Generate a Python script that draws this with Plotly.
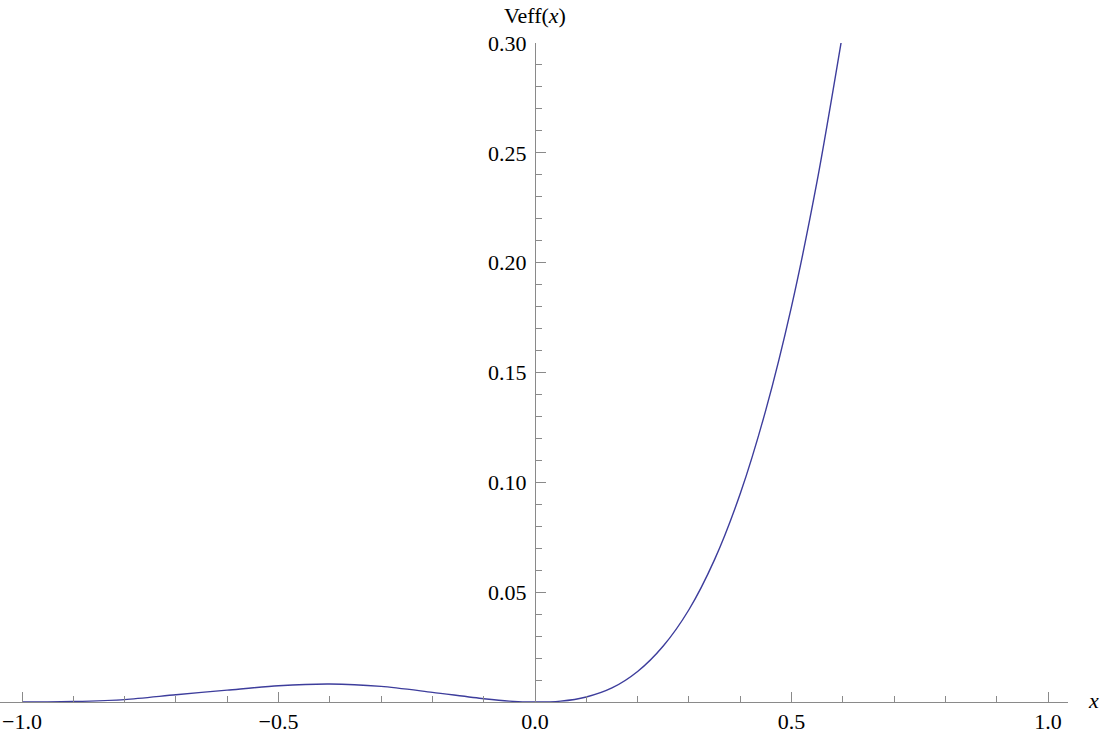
import plotly.graph_objects as go

# values
x_vals = [-1.0, -0.95, -0.9, -0.8, -0.7, -0.6, -0.5, -0.4, -0.3, -0.2, -0.1, -0.05,
          0.0, 0.05, 0.1, 0.15, 0.2, 0.25, 0.3, 0.35, 0.4, 0.45, 0.5, 0.55, 0.6]
veff_vals = [0.0, 0.0, 0.0002, 0.0011, 0.0033, 0.0054, 0.0074, 0.0082, 0.0071, 0.0044, 0.0015, 0.0004,
             0.0, 0.0004, 0.0023, 0.0064, 0.0139, 0.0255, 0.0420, 0.0648, 0.0948, 0.1330, 0.1800, 0.2372, 0.3048]

x_ticks = [-1.0, -0.5, 0.0, 0.5, 1.0]
x_ticktext = ["\u22121.0", "\u22120.5", "0.0", "0.5", "1.0"]
y_ticks = [0.05, 0.10, 0.15, 0.20, 0.25, 0.30]
y_ticktext = ["0.05", "0.10", "0.15", "0.20", "0.25", "0.30"]

AXIS_GREY = "#8a8a8a"
CURVE_BLUE = "#3d3d9c"
FONT = dict(family="Liberation Serif, Times New Roman, serif", size=22, color="black")

FIG_W, FIG_H = 1103, 735
PX_PER_UNIT = 513
PLOT_W = 1068          # x axis line runs from the left edge to x=1068

fig = go.Figure()
fig.add_trace(go.Scatter(
    x=x_vals, y=veff_vals, mode="lines",
    line=dict(color=CURVE_BLUE, width=1.4, shape="spline", smoothing=0.8),
    showlegend=False, hoverinfo="skip",
))

x0 = -1 - 22 / PX_PER_UNIT
fig.update_layout(
    width=FIG_W, height=FIG_H,
    margin=dict(l=0, r=FIG_W - PLOT_W, t=43, b=FIG_H - 702.5),
    plot_bgcolor="white", paper_bgcolor="white",
    font=FONT,
    xaxis=dict(
        range=[x0, x0 + PLOT_W / PX_PER_UNIT], automargin=False,
        showgrid=False, zeroline=False,
        showline=True, linecolor=AXIS_GREY, linewidth=1,
        tickmode="array", tickvals=x_ticks, ticktext=x_ticktext,
        ticks="inside", ticklen=10, tickcolor=AXIS_GREY, tickwidth=1,
        minor=dict(tickmode="linear", tick0=0, dtick=0.1, ticks="inside",
                   ticklen=6, tickcolor=AXIS_GREY, tickwidth=1),
        tickfont=FONT, ticklabelstandoff=0, ticklabeloverflow="allow",
    ),
    yaxis=dict(
        range=[0, 0.3], automargin=False,
        anchor="free", position=-x0 * PX_PER_UNIT / PLOT_W,
        showgrid=False, zeroline=False,
        showline=True, linecolor=AXIS_GREY, linewidth=1,
        tickmode="array", tickvals=y_ticks, ticktext=y_ticktext,
        ticks="inside", ticklen=10, tickcolor=AXIS_GREY, tickwidth=1,
        minor=dict(tickmode="linear", tick0=0, dtick=0.01, ticks="inside",
                   ticklen=6, tickcolor=AXIS_GREY, tickwidth=1),
        tickfont=FONT, ticklabelstandoff=4, ticklabeloverflow="allow",
    ),
)

# axis labels, Mathematica style
fig.add_annotation(text="Veff(<i>x</i>)", x=0, xref="x", y=1, yref="paper",
                   yanchor="middle", yshift=28, showarrow=False, font=FONT)
fig.add_annotation(text="<i>x</i>", x=1, xref="paper", xanchor="left", xshift=18,
                   y=0, yref="y", yanchor="middle", yshift=2, showarrow=False, font=FONT)

# drop the default 8px page margin so the figure fills the window
fig.write_html("out.html", config={"displayModeBar": False},
               post_script="document.body.style.margin = '0';")
